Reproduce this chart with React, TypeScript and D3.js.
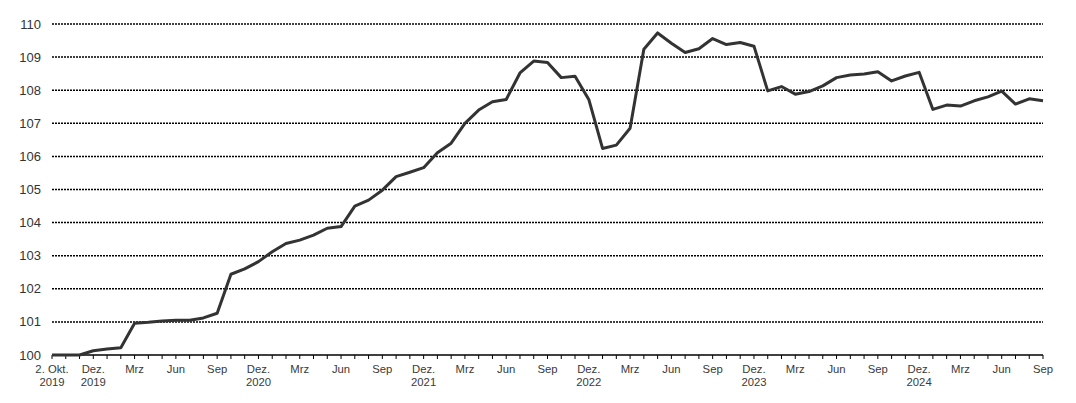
import React from "react";
import * as d3 from "d3";

// Categories: base date 2 Oct 2019, then monthly Okt 2019 .. Sep 2025
const monthNames = ["Jan", "Feb", "Mrz", "Apr", "Mai", "Jun", "Jul", "Aug", "Sep", "Okt", "Nov", "Dez"];
const categories: string[] = ["2019-10-02"];
for (let y = 2019; y <= 2025; y++) {
  for (let m = 1; m <= 12; m++) {
    if (y === 2019 && m < 10) continue;
    if (y === 2025 && m > 9) continue;
    categories.push(`${y}-${String(m).padStart(2, "0")}`);
  }
}

const values = [
  100.0, 100.0, 100.0, 100.13, 100.18, 100.22, 100.96, 100.99, 101.03, 101.05,
  101.05, 101.12, 101.26, 102.44, 102.6, 102.82, 103.12, 103.37, 103.47, 103.62,
  103.83, 103.88, 104.5, 104.68, 104.98, 105.39, 105.52, 105.66, 106.11, 106.4,
  107.0, 107.4, 107.65, 107.72, 108.52, 108.88, 108.84, 108.38, 108.42, 107.72,
  106.24, 106.34, 106.85, 109.24, 109.73, 109.42, 109.14, 109.25, 109.56, 109.38,
  109.44, 109.33, 107.98, 108.11, 107.88, 107.96, 108.13, 108.38, 108.46, 108.49,
  108.56, 108.28, 108.43, 108.54, 107.42, 107.55, 107.52, 107.68, 107.8, 107.97,
  107.58, 107.74, 107.68,
];

const yTicks = [100, 101, 102, 103, 104, 105, 106, 107, 108, 109, 110];

function tickLabel(cat: string): string[] | null {
  if (cat === "2019-10-02") return ["2. Okt.", "2019"];
  const [ys, ms] = cat.split("-");
  const m = +ms;
  if (cat === "2019-10" || cat === "2019-11") return null;
  if (m % 3 !== 0) return null;
  if (m === 12) return ["Dez.", ys];
  return [monthNames[m - 1]];
}

export default function App() {
  const width = 1076;
  const height = 403;
  const x = d3.scalePoint<string>().domain(categories).range([52, 1043]);
  const y = d3.scaleLinear().domain([100, 110]).range([355, 24]);
  const line = d3
    .line<number>()
    .x((_, i) => x(categories[i]) as number)
    .y((d) => y(d));

  return (
    <svg
      width={width}
      height={height}
      style={{ position: "absolute", left: 0, top: 0, background: "#fff" }}
      fontFamily="'Liberation Sans', Arial, sans-serif"
    >
      {yTicks.map((t) => (
        <g key={t}>
          {t > 100 && (
            <line
              x1={52}
              x2={1043}
              y1={y(t)}
              y2={y(t)}
              stroke="#000"
              strokeWidth={1.5}
              strokeDasharray="2 1"
            />
          )}
          <text x={41} y={y(t)} dy="0.35em" textAnchor="end" fontSize={13} fill="#333">
            {t}
          </text>
        </g>
      ))}
      {/* x axis */}
      <line x1={52} x2={1043} y1={355} y2={355} stroke="#000" strokeWidth={1.3} />
      {categories.map((c) => (
        <line key={c} x1={x(c)} x2={x(c)} y1={355} y2={359} stroke="#000" strokeWidth={1} />
      ))}
      {categories.map((c) => {
        const lab = tickLabel(c);
        if (!lab) return null;
        return (
          <text key={"l" + c} x={x(c)} y={373} textAnchor="middle" fontSize={11.3} fill="#3a3a3a">
            {lab.map((s, i) => (
              <tspan key={i} x={x(c)} dy={i === 0 ? 0 : 13}>
                {s}
              </tspan>
            ))}
          </text>
        );
      })}
      <path
        d={line(values) || ""}
        fill="none"
        stroke="#333"
        strokeWidth={3}
        strokeLinejoin="round"
      />
    </svg>
  );
}
